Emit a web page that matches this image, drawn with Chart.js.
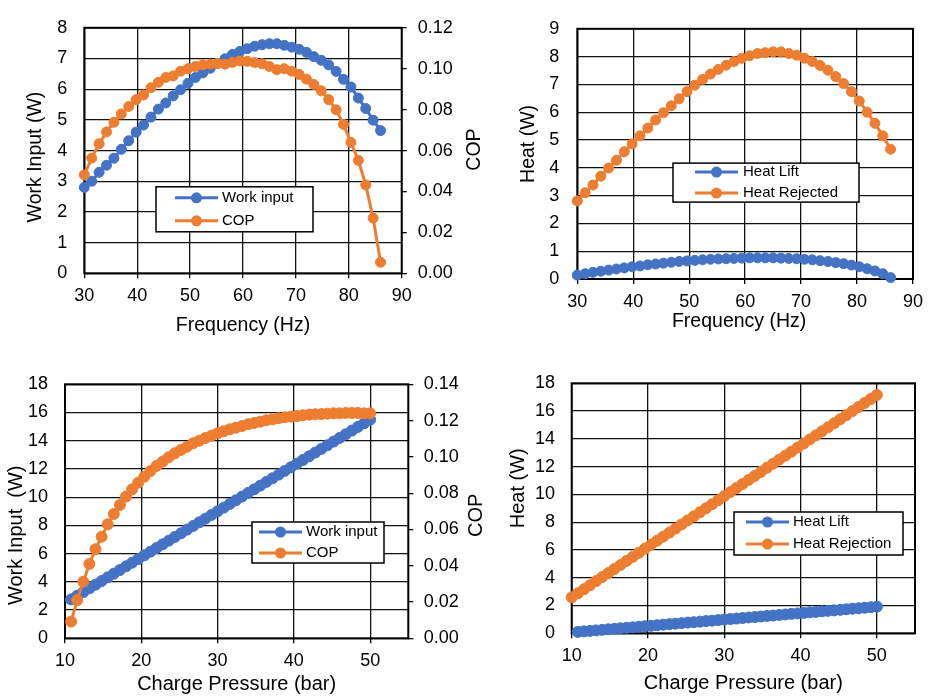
<!DOCTYPE html>
<html>
<head>
<meta charset="utf-8">
<script src="https://cdn.jsdelivr.net/npm/chart.js@4.4.1/dist/chart.umd.min.js"></script>
<style>
  html, body { margin: 0; padding: 0; background: #fff; }
  #wrap { position: relative; width: 930px; height: 699px; overflow: hidden; }
  #wrap canvas { position: absolute; }
</style>
</head>
<body>
<div id="wrap">
  <canvas id="freqWork" width="490" height="345" style="left:0;top:0"></canvas>
  <canvas id="freqHeat" width="460" height="345" style="left:470px;top:0"></canvas>
  <canvas id="presWork" width="490" height="354" style="left:0;top:345px"></canvas>
  <canvas id="presHeat" width="460" height="354" style="left:470px;top:345px"></canvas>
</div>
<script>
// --- frequency sweep
const frequency = [30, 31.4, 32.8, 34.2, 35.6, 37, 38.4, 39.8, 41.2, 42.6, 44, 45.4, 46.8, 48.2, 49.6,
  51, 52.4, 53.8, 55.2, 56.6, 58, 59.4, 60.8, 62.2, 63.6, 65, 66.4, 67.8, 69.2, 70.6, 72, 73.4,
  74.8, 76.2, 77.6, 79, 80.4, 81.8, 83.2, 84.6, 86];
const workInputF = [2.80, 3.00, 3.29, 3.52, 3.75, 4.04, 4.32, 4.60, 4.83, 5.09, 5.35, 5.55, 5.78, 5.98,
  6.19, 6.38, 6.53, 6.68, 6.84, 6.99, 7.13, 7.23, 7.32, 7.40, 7.45, 7.48, 7.48, 7.43, 7.37, 7.30,
  7.20, 7.06, 6.94, 6.79, 6.58, 6.32, 6.07, 5.71, 5.37, 4.99, 4.65];
const copF = [0.0481, 0.0563, 0.0633, 0.0691, 0.0738, 0.0779, 0.0815, 0.0849, 0.0872, 0.0907, 0.0934,
  0.0957, 0.0965, 0.0988, 0.1000, 0.1011, 0.1019, 0.1022, 0.1026, 0.1022, 0.1031, 0.1038, 0.1036,
  0.1030, 0.1024, 0.1011, 0.0995, 0.1000, 0.0988, 0.0972, 0.0949, 0.0923, 0.0892, 0.0849, 0.0799,
  0.0728, 0.0640, 0.0552, 0.0432, 0.0270, 0.0054];
const heatLiftF = [0.14, 0.19, 0.24, 0.28, 0.32, 0.36, 0.40, 0.44, 0.47, 0.51, 0.54, 0.57, 0.60, 0.63,
  0.65, 0.67, 0.69, 0.71, 0.72, 0.73, 0.74, 0.75, 0.76, 0.76, 0.76, 0.76, 0.75, 0.74, 0.73, 0.71,
  0.69, 0.66, 0.63, 0.59, 0.55, 0.50, 0.44, 0.37, 0.29, 0.19, 0.05];
const heatRejectedF = [2.81, 3.10, 3.38, 3.70, 3.99, 4.27, 4.58, 4.86, 5.15, 5.43, 5.72, 5.98, 6.23,
  6.48, 6.74, 6.97, 7.18, 7.37, 7.54, 7.69, 7.82, 7.94, 8.03, 8.11, 8.14, 8.17, 8.17, 8.11, 8.05,
  7.94, 7.82, 7.68, 7.51, 7.28, 7.03, 6.74, 6.40, 6.00, 5.60, 5.15, 4.67];

// --- charge pressure sweep (first point only exists for heat rejection)
const pressure = [10.0, 10.8, 11.6, 12.4, 13.2, 14.0, 14.8, 15.6, 16.4, 17.2, 18.0, 18.8, 19.6, 20.4,
  21.2, 22.0, 22.8, 23.6, 24.4, 25.2, 26.0, 26.8, 27.6, 28.4, 29.2, 30.0, 30.8, 31.6, 32.4, 33.2,
  34.0, 34.8, 35.6, 36.4, 37.2, 38.0, 38.8, 39.6, 40.4, 41.2, 42.0, 42.8, 43.6, 44.4, 45.2, 46.0,
  46.8, 47.6, 48.4, 49.2, 50.0];
const workInputP = [null, 2.76, 3.02, 3.28, 3.54, 3.80, 4.06, 4.32, 4.58, 4.84, 5.10, 5.36, 5.62, 5.88,
  6.14, 6.40, 6.66, 6.92, 7.18, 7.44, 7.70, 7.96, 8.22, 8.48, 8.74, 9.00, 9.26, 9.52, 9.78, 10.04,
  10.30, 10.56, 10.82, 11.08, 11.34, 11.60, 11.86, 12.12, 12.38, 12.64, 12.90, 13.16, 13.42, 13.68,
  13.94, 14.20, 14.46, 14.72, 14.98, 15.24, 15.50];
const copP = [null, 0.0092, 0.0211, 0.0312, 0.0410, 0.0491, 0.0560, 0.0628, 0.0685, 0.0735, 0.0781,
  0.0821, 0.0858, 0.0891, 0.0922, 0.0950, 0.0974, 0.0998, 0.1020, 0.1038, 0.1056, 0.1075, 0.1089,
  0.1104, 0.1117, 0.1130, 0.1141, 0.1152, 0.1161, 0.1170, 0.1180, 0.1187, 0.1194, 0.1202, 0.1207,
  0.1213, 0.1218, 0.1222, 0.1225, 0.1229, 0.1233, 0.1235, 0.1236, 0.1238, 0.1240, 0.1240, 0.1242,
  0.1242, 0.1242, 0.1240, 0.1240];
const heatLiftP = [null, 0.10, 0.14, 0.17, 0.21, 0.25, 0.29, 0.32, 0.36, 0.40, 0.43, 0.47, 0.51, 0.54,
  0.58, 0.62, 0.66, 0.69, 0.73, 0.77, 0.80, 0.84, 0.88, 0.91, 0.95, 0.99, 1.03, 1.06, 1.10, 1.14,
  1.17, 1.21, 1.25, 1.28, 1.32, 1.36, 1.40, 1.43, 1.47, 1.51, 1.54, 1.58, 1.62, 1.65, 1.69, 1.73,
  1.77, 1.80, 1.84, 1.88, 1.92];
const heatRejectionP = [2.59, 2.88, 3.17, 3.46, 3.76, 4.05, 4.34, 4.63, 4.92, 5.21, 5.50, 5.80, 6.09,
  6.38, 6.67, 6.96, 7.25, 7.54, 7.84, 8.13, 8.42, 8.71, 9.00, 9.29, 9.58, 9.88, 10.17, 10.46, 10.75,
  11.04, 11.33, 11.62, 11.92, 12.21, 12.50, 12.79, 13.08, 13.37, 13.66, 13.96, 14.25, 14.54, 14.83,
  15.12, 15.41, 15.70, 16.00, 16.29, 16.58, 16.87, 17.16];

// --- tick labels
const freqTicks = [30, 40, 50, 60, 70, 80, 90];
const presTicks = [10, 20, 30, 40, 50];
const workTicksF = [0, 1, 2, 3, 4, 5, 6, 7, 8];
const heatTicksF = [0, 1, 2, 3, 4, 5, 6, 7, 8, 9];
const copTicksF = [0, 0.02, 0.04, 0.06, 0.08, 0.10, 0.12];
const wattTicksP = [0, 2, 4, 6, 8, 10, 12, 14, 16, 18];
const copTicksP = [0, 0.02, 0.04, 0.06, 0.08, 0.10, 0.12, 0.14];

const FONT = '"Liberation Sans", Arial, Helvetica, sans-serif';
const BLUE = '#4472C4';
const ORANGE = '#ED7D31';
const GRID = '#111';

/* === PLUGINS */
const plotFrame = {
  id: 'plotFrame',
  beforeDatasetsDraw(chart) {
    const { ctx, chartArea: a } = chart;
    ctx.save();
    ctx.strokeStyle = '#000';
    ctx.lineWidth = 2;
    ctx.strokeRect(a.left, a.top, a.right - a.left, a.bottom - a.top);
    ctx.restore();
  }
};

const axisTitles = {
  id: 'axisTitles',
  afterDraw(chart, args, opts) {
    if (!opts || !opts.x) return;
    const { ctx, chartArea: a } = chart;
    const midX = (a.left + a.right) / 2;
    const midY = (a.top + a.bottom) / 2;
    ctx.save();
    ctx.fillStyle = '#000';
    ctx.textAlign = 'center';
    ctx.font = `${opts.size}px ${FONT}`;

    ctx.textBaseline = 'alphabetic';
    ctx.fillText(opts.x.text, midX + (opts.x.shift || 0), a.bottom + opts.x.gap);

    const vertical = (t, cx) => {
      ctx.save();
      ctx.translate(cx, midY + (t.shift || 0));
      ctx.rotate(-Math.PI / 2);
      ctx.textBaseline = 'middle';
      ctx.fillText(t.text, 0, 0);
      ctx.restore();
    };
    if (opts.y) vertical(opts.y, a.left - opts.y.gap);
    if (opts.y1) vertical(opts.y1, a.right + opts.y1.gap);
    ctx.restore();
  }
};

// legend drawn as a framed box inside the plot
const boxLegend = {
  id: 'boxLegend',
  afterDatasetsDraw(chart, args, opts) {
    if (!opts || opts.w == null) return;
    const { ctx, chartArea: a } = chart;
    const bx = a.left + opts.dx, by = a.top + opts.dy;
    ctx.save();
    ctx.fillStyle = '#fff';
    ctx.fillRect(bx, by, opts.w, opts.h);
    ctx.strokeStyle = '#000';
    ctx.lineWidth = 1.5;
    ctx.strokeRect(bx, by, opts.w, opts.h);
    ctx.font = `15px ${FONT}`;
    ctx.textAlign = 'left';
    ctx.textBaseline = 'middle';
    chart.data.datasets.forEach((ds, i) => {
      const y = by + opts.rows[i];
      ctx.strokeStyle = ds.borderColor;
      ctx.lineWidth = 3;
      ctx.beginPath();
      ctx.moveTo(bx + opts.line[0], y);
      ctx.lineTo(bx + opts.line[1], y);
      ctx.stroke();
      ctx.fillStyle = ds.borderColor;
      ctx.beginPath();
      ctx.arc(bx + (opts.line[0] + opts.line[1]) / 2, y, 5.5, 0, Math.PI * 2);
      ctx.fill();
      ctx.fillStyle = '#000';
      ctx.fillText(ds.label, bx + opts.textX, y);
    });
    ctx.restore();
  }
};

Chart.register(plotFrame, axisTitles, boxLegend);

/* === HELPERS */
const pts = (xs, ys) => xs.map((x, i) => ({ x, y: ys[i] }));

function series(label, xs, ys, color, axis, radius, order) {
  return {
    label,
    data: pts(xs, ys),
    yAxisID: axis,
    order,
    borderColor: color,
    backgroundColor: color,
    pointBackgroundColor: color,
    pointBorderColor: color,
    borderWidth: 3,
    pointRadius: radius,
    pointBorderWidth: 1,
    pointHoverRadius: radius,
    tension: 0,
    clip: false
  };
}

const tickFont = { family: FONT, size: 18 };

function xScale(min, max, list, height, pad) {
  return {
    type: 'linear', position: 'bottom', min, max,
    afterBuildTicks: s => { s.ticks = list.map(v => ({ value: v })); },
    afterFit: s => { s.height = height; },
    ticks: { color: '#000', font: tickFont, padding: pad, maxRotation: 0, autoSkip: false },
    grid: { color: GRID, lineWidth: 1.3, tickLength: 5, tickColor: '#000' },
    border: { display: false }
  };
}

function yScale(min, max, list, width, pad) {
  return {
    type: 'linear', position: 'left', min, max,
    afterBuildTicks: s => { s.ticks = list.map(v => ({ value: v })); },
    afterFit: s => { s.width = width; },
    ticks: { color: '#000', font: tickFont, padding: pad },
    grid: { color: GRID, lineWidth: 1.3, drawTicks: false },
    border: { display: false }
  };
}

function copScale(max, list, width, pad) {
  return {
    type: 'linear', position: 'right', min: 0, max,
    afterBuildTicks: s => { s.ticks = list.map(v => ({ value: v })); },
    afterFit: s => { s.width = width; },
    ticks: { color: '#000', font: tickFont, padding: pad, callback: v => v.toFixed(2) },
    grid: { drawOnChartArea: false, tickLength: 5, tickColor: '#000', color: '#000', lineWidth: 1.3 },
    border: { display: false }
  };
}

// box: canvas rect on the page, area: wanted plot rect on the page
function build(id, box, area, datasets, scales, titles, legend) {
  const hasRight = !!scales.y1;
  const dims = {
    left: area.l - box.x,
    right: box.x + box.w - area.r,
    bottom: box.y + box.h - area.b
  };
  const sc = {
    x: xScale(scales.x.min, scales.x.max, scales.x.list, dims.bottom, 7),
    y: yScale(0, scales.y.max, scales.y.list, dims.left, scales.y.pad)
  };
  if (hasRight) sc.y1 = copScale(scales.y1.max, scales.y1.list, dims.right, scales.y1.pad);
  return new Chart(document.getElementById(id), {
    type: 'line',
    data: { datasets },
    options: {
      responsive: false,
      animation: false,
      events: [],
      layout: { padding: { left: 0, top: area.t - box.y, right: hasRight ? 0 : dims.right, bottom: 0 } },
      scales: sc,
      plugins: {
        legend: { display: false },
        tooltip: { enabled: false },
        axisTitles: titles,
        boxLegend: legend
      }
    }
  });
}

/* === CHARTS */
build('freqWork',
  { x: 0, y: 0, w: 490, h: 345 },
  { l: 84.3, t: 14, r: 401.7, b: 273.3 },
  [series('Work input', frequency, workInputF, BLUE, 'y', 5, 1),
   series('COP', frequency, copF, ORANGE, 'y1', 5, 0)],
  { x: { min: 30, max: 90, list: freqTicks },
    y: { max: 8, list: workTicksF, pad: 17 },
    y1: { max: 0.12, list: copTicksF, pad: 11 } },
  { size: 19.5,
    x: { text: 'Frequency (Hz)', gap: 57.6 },
    y: { text: 'Work Input (W)', gap: 48.8, shift: 6.5 },
    y1: { text: 'COP', gap: 73.3, shift: -1 } },
  { dx: 71.7, dy: 159, w: 157, h: 45, rows: [11, 34], line: [19, 62], textX: 66 });

build('freqHeat',
  { x: 470, y: 0, w: 460, h: 345 },
  { l: 577.3, t: 15.7, r: 914, b: 279 },
  [series('Heat Lift', frequency, heatLiftF, BLUE, 'y', 5, 1),
   series('Heat Rejected', frequency, heatRejectedF, ORANGE, 'y', 5, 0)],
  { x: { min: 30, max: 90, list: freqTicks },
    y: { max: 9, list: heatTicksF, pad: 18 } },
  { size: 19.5,
    x: { text: 'Frequency (Hz)', gap: 47.6, shift: -6 },
    y: { text: 'Heat (W)', gap: 48.3, shift: -10 } },
  { dx: 95.7, dy: 134.3, w: 186, h: 39, rows: [9, 30], line: [22, 65], textX: 70 });

build('presWork',
  { x: 0, y: 345, w: 490, h: 354 },
  { l: 65, t: 384.3, r: 408.3, b: 638.3 },
  [series('Work input', pressure, workInputP, BLUE, 'y', 5.5, 1),
   series('COP', pressure, copP, ORANGE, 'y1', 5.5, 0)],
  { x: { min: 10, max: 55, list: presTicks },
    y: { max: 18, list: wattTicksP, pad: 17 },
    y1: { max: 0.14, list: copTicksP, pad: 10.5 } },
  { size: 20,
    x: { text: 'Charge Pressure (bar)', gap: 51.7 },
    y: { text: 'Work Input  (W)', gap: 48.3, shift: 24 },
    y1: { text: 'COP', gap: 67.7, shift: 4 } },
  { dx: 187, dy: 137.7, w: 132, h: 41, rows: [10, 31], line: [7, 50], textX: 54 });

build('presHeat',
  { x: 470, y: 345, w: 460, h: 354 },
  { l: 571.7, t: 383.3, r: 915, b: 633.3 },
  [series('Heat Lift', pressure, heatLiftP, BLUE, 'y', 5.5, 1),
   series('Heat Rejection', pressure, heatRejectionP, ORANGE, 'y', 5.5, 0)],
  { x: { min: 10, max: 55, list: presTicks },
    y: { max: 18, list: wattTicksP, pad: 16.7 } },
  { size: 20,
    x: { text: 'Charge Pressure (bar)', gap: 55.7 },
    y: { text: 'Heat (W)', gap: 53.7, shift: -20 } },
  { dx: 162.3, dy: 128.7, w: 169, h: 43, rows: [10, 32], line: [12, 55], textX: 59 });
</script>
</body>
</html>
